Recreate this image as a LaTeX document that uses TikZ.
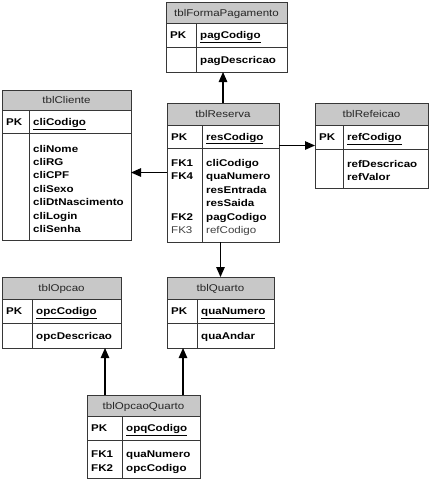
\documentclass[tikz,border=0pt]{standalone}
\usepackage{fontspec}
\setmainfont{Liberation Sans}[FakeStretch=1.18]
\usetikzlibrary{arrows.meta}
\definecolor{hdrgray}{RGB}{200,200,200}
\definecolor{linegray}{RGB}{55,55,55}
\newcommand{\erfont}{\fontsize{9.8}{13.4}\selectfont}
\begin{document}
\begin{tikzpicture}[x=1pt,y=-1pt,
  tblbox/.style={draw=linegray, line width=0.8pt, inner sep=0pt, outer sep=0pt, anchor=north west, rectangle},
  hdr/.style={fill=hdrgray},
  sep/.style={draw=linegray, line width=0.8pt},
  title/.style={inner sep=0pt, anchor=base, font=\erfont, text=black!85},
  lbl/.style={inner sep=0pt, anchor=base west, font=\erfont\bfseries},
  lst/.style={inner sep=0pt, anchor=north west, font=\erfont\bfseries, align=left},
  fk/.style={draw=black, line width=1.2pt, -{Triangle[length=10pt,width=8.5pt]}}
]
\useasboundingbox (0,0) rectangle (429,480);

% tblFormaPagamento
\fill[hdr] (166,2) rectangle (287,23);
\node[tblbox, minimum width=121pt, minimum height=70pt] (pag) at (166,2) {};
\draw[sep] (166,23) -- (287,23) (166,47) -- (287,47) (196,23) -- (196,72);
\node[title] (pagT) at (226.5,16.2) {tblFormaPagamento};
\node[lbl] (pagPK) at (170,38.7) {PK};
\node[lbl] (pagK) at (200,38.7) {\underline{pagCodigo}};
\node[lbl] (pagF) at (200,63.2) {pagDescricao};

% tblCliente
\fill[hdr] (2,90) rectangle (131,110);
\node[tblbox, minimum width=129pt, minimum height=150pt] (cli) at (2,90) {};
\draw[sep] (2,110) -- (131,110) (2,133) -- (131,133) (29,110) -- (29,240);
\node[title] (cliT) at (66.5,103.7) {tblCliente};
\node[lbl] (cliPK) at (6,125.5) {PK};
\node[lbl] (cliK) at (33,125.5) {\underline{cliCodigo}};
\node[lst] (cliF) at (33,142.6) {\strut cliNome\\cliRG\\cliCPF\\cliSexo\\cliDtNascimento\\cliLogin\\cliSenha};

% tblReserva
\fill[hdr] (167,103) rectangle (279,125);
\node[tblbox, minimum width=112pt, minimum height=139pt] (res) at (167,103) {};
\draw[sep] (167,125) -- (279,125) (167,148) -- (279,148) (202,125) -- (202,242);
\node[title] (resT) at (223,117.7) {tblReserva};
\node[lbl] (resPK) at (171,140.2) {PK};
\node[lbl] (resK) at (206,140.2) {\underline{resCodigo}};
\node[lst] (resFK) at (171,157) {\strut FK1\\FK4\\\mbox{}\\\mbox{}\\FK2\\{\mdseries\color{black!75}FK3}};
\node[lst] (resF) at (206,157) {\strut cliCodigo\\quaNumero\\resEntrada\\resSaida\\pagCodigo\\{\mdseries\color{black!75}refCodigo}};

% tblRefeicao
\fill[hdr] (315,103) rectangle (428,125);
\node[tblbox, minimum width=113pt, minimum height=85pt] (ref) at (315,103) {};
\draw[sep] (315,125) -- (428,125) (315,149) -- (428,149) (343,125) -- (343,188);
\node[title] (refT) at (371.5,117.7) {tblRefeicao};
\node[lbl] (refPK) at (319,140.7) {PK};
\node[lbl] (refK) at (347,140.7) {\underline{refCodigo}};
\node[lst] (refF) at (347,157.6) {\strut refDescricao\\refValor};

% tblOpcao
\fill[hdr] (2,277) rectangle (121,299);
\node[tblbox, minimum width=119pt, minimum height=71pt] (opc) at (2,277) {};
\draw[sep] (2,299) -- (121,299) (2,323) -- (121,323) (32,299) -- (32,348);
\node[title] (opcT) at (61.5,291.7) {tblOpcao};
\node[lbl] (opcPK) at (6,314.7) {PK};
\node[lbl] (opcK) at (36,314.7) {\underline{opcCodigo}};
\node[lbl] (opcF) at (36,339.2) {opcDescricao};

% tblQuarto
\fill[hdr] (167,277) rectangle (274,299);
\node[tblbox, minimum width=107pt, minimum height=71pt] (qua) at (167,277) {};
\draw[sep] (167,299) -- (274,299) (167,323) -- (274,323) (197,299) -- (197,348);
\node[title] (quaT) at (220.5,291.7) {tblQuarto};
\node[lbl] (quaPK) at (171,314.7) {PK};
\node[lbl] (quaK) at (201,314.7) {\underline{quaNumero}};
\node[lbl] (quaF) at (201,339.2) {quaAndar};

% tblOpcaoQuarto
\fill[hdr] (87,395) rectangle (200,416);
\node[tblbox, minimum width=113pt, minimum height=83pt] (opq) at (87,395) {};
\draw[sep] (87,416) -- (200,416) (87,440) -- (200,440) (122,416) -- (122,478);
\node[title] (opqT) at (143.5,409.2) {tblOpcaoQuarto};
\node[lbl] (opqPK) at (91,431.7) {PK};
\node[lbl] (opqK) at (126,431.7) {\underline{opqCodigo}};
\node[lst] (opqFK) at (91,448.3) {\strut FK1\\FK2};
\node[lst] (opqF) at (126,448.3) {\strut quaNumero\\opcCodigo};

% connectors
\draw[fk] (res.north) -- (res.north |- pag.south);
\draw[fk] (res.west) -- (res.west -| cli.east);
\draw[fk] (res.east |- ref.west) -- (ref.west);
\draw[fk] (res.south -| qua.north) -- (qua.north);
\coordinate (oq1) at (105,395);
\coordinate (oq2) at (183,395);
\draw[fk] (oq1) -- (oq1 |- opc.south);
\draw[fk] (oq2) -- (oq2 |- qua.south);
\end{tikzpicture}
\end{document}
